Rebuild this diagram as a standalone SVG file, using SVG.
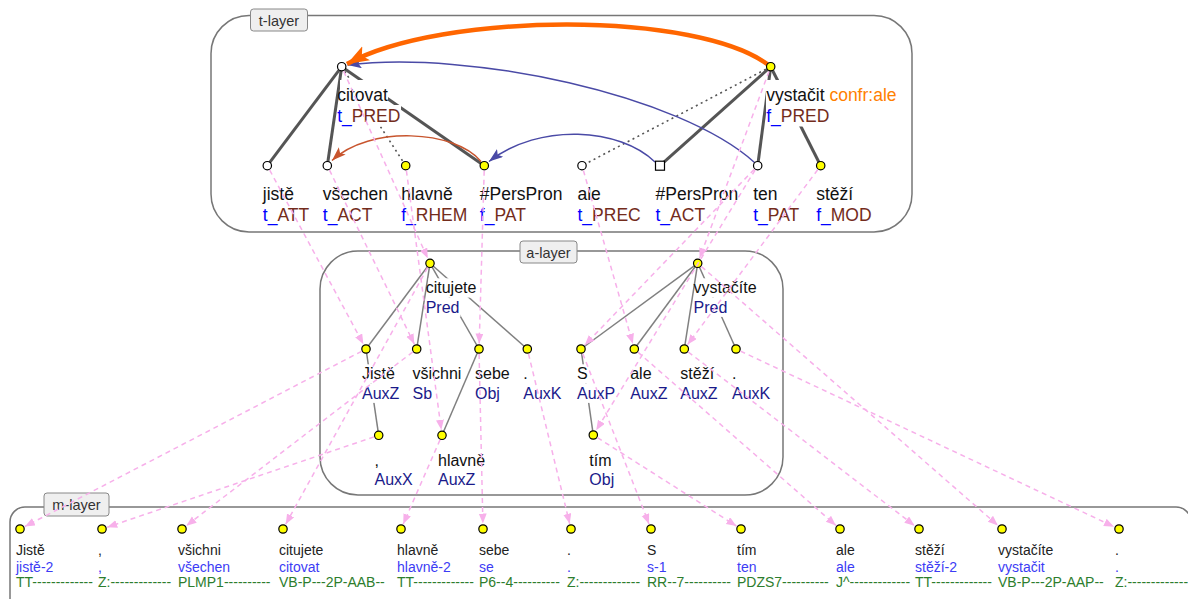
<svg xmlns="http://www.w3.org/2000/svg" width="1188" height="599" viewBox="0 0 1188 599">
<style>
text{font-family:"Liberation Sans",Arial,sans-serif}
.lay{fill:none;stroke:#777;stroke-width:1.5}
.lbox{fill:#efefef;stroke:#888;stroke-width:1}
.ltxt{font-size:14.5px;fill:#333;text-anchor:middle}
.te{stroke:#555;stroke-width:3;fill:none}
.td{stroke:#555;stroke-width:1.6;stroke-dasharray:2 3.5;fill:none}
.ae{stroke:#808080;stroke-width:1.5;fill:none}
.pk{stroke:#f7b0ea;stroke-width:1.5;stroke-dasharray:5 4;fill:none;marker-end:url(#pa)}
.nd{stroke:#000;stroke-width:1.2}
.y{fill:#ffff00}
.w{fill:#fff}
.bg{fill:#fff}
.tt{font-size:17.5px;fill:#111}
.tf{fill:#0000ff}
.fn{fill:#732c1c}
.at{font-size:16px;fill:#111}
.af{fill:#1a1a8a}
.mt{font-size:14px;fill:#222}
.m2{fill:#3c3cf5}
.m3{fill:#2d7d2d}
</style>
<defs>
<marker id="pa" markerUnits="userSpaceOnUse" markerWidth="11" markerHeight="9" refX="10" refY="4" orient="auto"><path d="M0,0 L10,4 L0,8 Z" fill="#f7b0ea"/></marker>
<marker id="oa" markerUnits="userSpaceOnUse" markerWidth="24" markerHeight="18" refX="22" refY="8" orient="auto"><path d="M0,0 L22,8 L0,16 L5,8 Z" fill="#ff6600"/></marker>
<marker id="ba" markerUnits="userSpaceOnUse" markerWidth="16" markerHeight="12" refX="14" refY="5" orient="auto"><path d="M0,0 L14,5 L0,10 L3,5 Z" fill="#4a4aa6"/></marker>
<marker id="ra" markerUnits="userSpaceOnUse" markerWidth="16" markerHeight="12" refX="14" refY="5" orient="auto"><path d="M0,0 L14,5 L0,10 L3,5 Z" fill="#c8552e"/></marker>
</defs>

<g id="layers">
<rect class="lay" x="211" y="15.5" width="701" height="216.5" rx="38"/>
<rect class="lbox" x="250.5" y="9" width="57" height="22" rx="3"/>
<text class="ltxt" x="279" y="25.5">t-layer</text>
<rect class="lay" x="320" y="251" width="463" height="244" rx="38"/>
<rect class="lbox" x="520" y="241" width="57" height="22" rx="3"/>
<text class="ltxt" x="548.5" y="257.5">a-layer</text>
<rect class="lay" x="10" y="507" width="1181" height="110" rx="15"/>
<rect class="lbox" x="44" y="493" width="65" height="23" rx="3"/>
<text class="ltxt" x="76.5" y="509.5">m-layer</text>
</g>

<g id="edges">
<line class="te" x1="341.7" y1="66.7" x2="267.3" y2="165.7"/>
<line class="te" x1="341.7" y1="66.7" x2="327.3" y2="165.7"/>
<line class="te" x1="341.7" y1="66.7" x2="484.3" y2="165.7"/>
<line class="td" x1="341.7" y1="66.7" x2="405.7" y2="165.7"/>
<line class="te" x1="770.7" y1="66.7" x2="660" y2="165.7"/>
<line class="te" x1="770.7" y1="66.7" x2="757.7" y2="165.7"/>
<line class="te" x1="770.7" y1="66.7" x2="820.7" y2="165.7"/>
<line class="td" x1="770.7" y1="66.7" x2="582" y2="165.7"/>
<path d="M754.5,162.5 C680,95 470,50 347.5,65" fill="none" stroke="#4a4aa6" stroke-width="1.5" marker-end="url(#ba)"/>
<path d="M655,162 C620,128 540,122 489,161.5" fill="none" stroke="#4a4aa6" stroke-width="1.5" marker-end="url(#ba)"/>
<path d="M481,161.5 C455,130 370,125 332,160.5" fill="none" stroke="#c8552e" stroke-width="1.5" marker-end="url(#ra)"/>
<path d="M770.7,66.7 C700,10 440,12 347,64" fill="none" stroke="#ff6600" stroke-width="4.5" marker-end="url(#oa)"/>
<line class="ae" x1="430" y1="263.3" x2="366" y2="349"/>
<line class="ae" x1="430" y1="263.3" x2="416.7" y2="349"/>
<line class="ae" x1="430" y1="263.3" x2="479" y2="349"/>
<line class="ae" x1="430" y1="263.3" x2="527.3" y2="349"/>
<line class="ae" x1="366" y1="349" x2="378.7" y2="435.3"/>
<line class="ae" x1="479" y1="349" x2="442" y2="435.3"/>
<line class="ae" x1="697.7" y1="263.3" x2="581" y2="349"/>
<line class="ae" x1="697.7" y1="263.3" x2="634.3" y2="349"/>
<line class="ae" x1="697.7" y1="263.3" x2="684.3" y2="349"/>
<line class="ae" x1="697.7" y1="263.3" x2="736" y2="349"/>
<line class="ae" x1="581" y1="349" x2="593.3" y2="435"/>
</g>

<g id="t_citovat">
<rect class="bg" x="340" y="80" width="48" height="25"/>
<rect class="bg" x="340" y="105" width="61" height="21.5"/>
<text class="tt" x="337.2" y="100.5">citovat</text>
<text class="tt" x="337.2" y="122"><tspan class="tf">t_</tspan><tspan class="fn">PRED</tspan></text>
<circle class="nd w" cx="341.7" cy="66.7" r="4.2"/>
</g>
<g id="t_vystacit">
<rect class="bg" x="766" y="80" width="132" height="25"/>
<rect class="bg" x="766" y="105" width="65" height="21.5"/>
<text class="tt" x="766.2" y="100.5">vystačit <tspan fill="#ff8000">confr:ale</tspan></text>
<text class="tt" x="766.2" y="122"><tspan class="tf">f_</tspan><tspan class="fn">PRED</tspan></text>
<circle class="nd y" cx="770.7" cy="66.7" r="4.2"/>
</g>
<g id="t_jiste">
<text class="tt" x="262.8" y="199.5">jistě</text>
<text class="tt" x="262.8" y="221"><tspan class="tf">t_</tspan><tspan class="fn">ATT</tspan></text>
<circle class="nd w" cx="267.3" cy="165.7" r="4.2"/>
</g>
<g id="t_vsechen">
<text class="tt" x="322.8" y="199.5">všechen</text>
<text class="tt" x="322.8" y="221"><tspan class="tf">t_</tspan><tspan class="fn">ACT</tspan></text>
<circle class="nd w" cx="327.3" cy="165.7" r="4.2"/>
</g>
<g id="t_hlavne">
<text class="tt" x="401.2" y="199.5">hlavně</text>
<text class="tt" x="401.2" y="221"><tspan class="tf">f_</tspan><tspan class="fn">RHEM</tspan></text>
<circle class="nd y" cx="405.7" cy="165.7" r="4.2"/>
</g>
<g id="t_perspron1">
<text class="tt" x="479.8" y="199.5">#PersPron</text>
<text class="tt" x="479.8" y="221"><tspan class="tf">f_</tspan><tspan class="fn">PAT</tspan></text>
<circle class="nd y" cx="484.3" cy="165.7" r="4.2"/>
</g>
<g id="t_ale">
<text class="tt" x="577.5" y="199.5">ale</text>
<text class="tt" x="577.5" y="221"><tspan class="tf">t_</tspan><tspan class="fn">PREC</tspan></text>
<circle class="nd w" cx="582" cy="165.7" r="4.2"/>
</g>
<g id="t_perspron2">
<text class="tt" x="655.5" y="199.5">#PersPron</text>
<text class="tt" x="655.5" y="221"><tspan class="tf">t_</tspan><tspan class="fn">ACT</tspan></text>
<rect class="nd w" x="655.5" y="161.2" width="9" height="9"/>
</g>
<g id="t_ten">
<text class="tt" x="753.2" y="199.5">ten</text>
<text class="tt" x="753.2" y="221"><tspan class="tf">t_</tspan><tspan class="fn">PAT</tspan></text>
<circle class="nd w" cx="757.7" cy="165.7" r="4.2"/>
</g>
<g id="t_stezi">
<text class="tt" x="816.2" y="199.5">stěží</text>
<text class="tt" x="816.2" y="221"><tspan class="tf">f_</tspan><tspan class="fn">MOD</tspan></text>
<circle class="nd y" cx="820.7" cy="165.7" r="4.2"/>
</g>

<g id="a_citujete">
<rect class="bg" x="428.5" y="278.3" width="49" height="19.3"/>
<rect class="bg" x="428.5" y="297.6" width="32" height="19.3"/>
<text class="at" x="425.7" y="293.3">citujete</text>
<text class="at af" x="425.7" y="312.6">Pred</text>
<circle class="nd y" cx="430" cy="263.3" r="4.2"/>
</g>
<g id="a_jiste">
<rect class="bg" x="362.5" y="364.3" width="32.5" height="19.3"/>
<rect class="bg" x="362.5" y="383.6" width="37" height="19.3"/>
<text class="at" x="362" y="379.3">Jistě</text>
<text class="at af" x="362" y="398.6">AuxZ</text>
<circle class="nd y" cx="366" cy="349" r="4.2"/>
</g>
<g id="a_vsichni">
<text class="at" x="412.5" y="379.3">všichni</text>
<text class="at af" x="412.5" y="398.6">Sb</text>
<circle class="nd y" cx="416.7" cy="349" r="4.2"/>
</g>
<g id="a_sebe">
<text class="at" x="475" y="379.3">sebe</text>
<text class="at af" x="475" y="398.6">Obj</text>
<circle class="nd y" cx="479" cy="349" r="4.2"/>
</g>
<g id="a_dot1">
<text class="at" x="523.3" y="379.3">.</text>
<text class="at af" x="523.3" y="398.6">AuxK</text>
<circle class="nd y" cx="527.3" cy="349" r="4.2"/>
</g>
<g id="a_comma">
<text class="at" x="374.5" y="465.5">,</text>
<text class="at af" x="374.5" y="484.8">AuxX</text>
<circle class="nd y" cx="378.7" cy="435.3" r="4.2"/>
</g>
<g id="a_hlavne">
<text class="at" x="438" y="465.5">hlavně</text>
<text class="at af" x="438" y="484.8">AuxZ</text>
<circle class="nd y" cx="442" cy="435.3" r="4.2"/>
</g>
<g id="a_vystacite">
<rect class="bg" x="696.5" y="278.3" width="61" height="19.3"/>
<rect class="bg" x="696.5" y="297.6" width="32" height="19.3"/>
<text class="at" x="693.5" y="293.3">vystačíte</text>
<text class="at af" x="693.5" y="312.6">Pred</text>
<circle class="nd y" cx="697.7" cy="263.3" r="4.2"/>
</g>
<g id="a_s">
<rect class="bg" x="577.5" y="364.3" width="11" height="19.3"/>
<rect class="bg" x="577.5" y="383.6" width="38" height="19.3"/>
<text class="at" x="577" y="379.3">S</text>
<text class="at af" x="577" y="398.6">AuxP</text>
<circle class="nd y" cx="581" cy="349" r="4.2"/>
</g>
<g id="a_ale">
<text class="at" x="630.2" y="379.3">ale</text>
<text class="at af" x="630.2" y="398.6">AuxZ</text>
<circle class="nd y" cx="634.3" cy="349" r="4.2"/>
</g>
<g id="a_stezi">
<text class="at" x="680.3" y="379.3">stěží</text>
<text class="at af" x="680.3" y="398.6">AuxZ</text>
<circle class="nd y" cx="684.3" cy="349" r="4.2"/>
</g>
<g id="a_dot2">
<text class="at" x="732" y="379.3">.</text>
<text class="at af" x="732" y="398.6">AuxK</text>
<circle class="nd y" cx="736" cy="349" r="4.2"/>
</g>
<g id="a_tim">
<text class="at" x="589.3" y="465.5">tím</text>
<text class="at af" x="589.3" y="484.8">Obj</text>
<circle class="nd y" cx="593.3" cy="435" r="4.2"/>
</g>

<g id="m_jiste"><circle class="nd y" cx="20" cy="529" r="4.2"/><text class="mt" x="16" y="555">Jistě</text><text class="mt m2" x="16" y="571.5">jistě-2</text><text class="mt m3" x="16" y="587">TT-------------</text></g>
<g id="m_comma"><circle class="nd y" cx="102" cy="529" r="4.2"/><text class="mt" x="98" y="555">,</text><text class="mt m2" x="98" y="571.5">,</text><text class="mt m3" x="98" y="587">Z:-------------</text></g>
<g id="m_vsichni"><circle class="nd y" cx="182" cy="529" r="4.2"/><text class="mt" x="178" y="555">všichni</text><text class="mt m2" x="178" y="571.5">všechen</text><text class="mt m3" x="178" y="587">PLMP1----------</text></g>
<g id="m_citujete"><circle class="nd y" cx="283" cy="529" r="4.2"/><text class="mt" x="279" y="555">citujete</text><text class="mt m2" x="279" y="571.5">citovat</text><text class="mt m3" x="279" y="587">VB-P---2P-AAB--</text></g>
<g id="m_hlavne"><circle class="nd y" cx="401" cy="529" r="4.2"/><text class="mt" x="397" y="555">hlavně</text><text class="mt m2" x="397" y="571.5">hlavně-2</text><text class="mt m3" x="397" y="587">TT-------------</text></g>
<g id="m_sebe"><circle class="nd y" cx="483" cy="529" r="4.2"/><text class="mt" x="479" y="555">sebe</text><text class="mt m2" x="479" y="571.5">se</text><text class="mt m3" x="479" y="587">P6--4----------</text></g>
<g id="m_dot1"><circle class="nd y" cx="571" cy="529" r="4.2"/><text class="mt" x="567" y="555">.</text><text class="mt m2" x="567" y="571.5">.</text><text class="mt m3" x="567" y="587">Z:-------------</text></g>
<g id="m_s"><circle class="nd y" cx="651" cy="529" r="4.2"/><text class="mt" x="647" y="555">S</text><text class="mt m2" x="647" y="571.5">s-1</text><text class="mt m3" x="647" y="587">RR--7----------</text></g>
<g id="m_tim"><circle class="nd y" cx="741" cy="529" r="4.2"/><text class="mt" x="737" y="555">tím</text><text class="mt m2" x="737" y="571.5">ten</text><text class="mt m3" x="737" y="587">PDZS7----------</text></g>
<g id="m_ale"><circle class="nd y" cx="840" cy="529" r="4.2"/><text class="mt" x="836" y="555">ale</text><text class="mt m2" x="836" y="571.5">ale</text><text class="mt m3" x="836" y="587">J^-------------</text></g>
<g id="m_stezi"><circle class="nd y" cx="919" cy="529" r="4.2"/><text class="mt" x="915" y="555">stěží</text><text class="mt m2" x="915" y="571.5">stěží-2</text><text class="mt m3" x="915" y="587">TT-------------</text></g>
<g id="m_vystacite"><circle class="nd y" cx="1002" cy="529" r="4.2"/><text class="mt" x="998" y="555">vystačíte</text><text class="mt m2" x="998" y="571.5">vystačit</text><text class="mt m3" x="998" y="587">VB-P---2P-AAP--</text></g>
<g id="m_dot2"><circle class="nd y" cx="1119" cy="529" r="4.2"/><text class="mt" x="1115" y="555">.</text><text class="mt m2" x="1115" y="571.5">.</text><text class="mt m3" x="1115" y="587">Z:-------------</text></g>

<g id="links">
<line class="pk" x1="343.7" y1="71.3" x2="427.7" y2="258.3"/>
<line class="pk" x1="269.7" y1="170.1" x2="363.4" y2="344.2"/>
<line class="pk" x1="329.5" y1="170.2" x2="414.3" y2="344.1"/>
<line class="pk" x1="406.4" y1="170.7" x2="441.3" y2="429.8"/>
<line class="pk" x1="484.2" y1="170.7" x2="479.2" y2="343.5"/>
<line class="pk" x1="583.4" y1="170.5" x2="632.8" y2="343.7"/>
<line class="pk" x1="769" y1="71.4" x2="699.6" y2="258.1"/>
<line class="pk" x1="754.2" y1="169.3" x2="584.8" y2="345"/>
<line class="pk" x1="755.1" y1="170" x2="596.2" y2="430.3"/>
<line class="pk" x1="817.7" y1="169.7" x2="687.6" y2="344.6"/>
<line class="pk" x1="361.6" y1="351.3" x2="24.9" y2="526.5"/>
<line class="pk" x1="374" y1="436.9" x2="107.2" y2="527.2"/>
<line class="pk" x1="412.7" y1="352" x2="186.4" y2="525.7"/>
<line class="pk" x1="427.6" y1="267.7" x2="285.7" y2="524.2"/>
<line class="pk" x1="440" y1="439.9" x2="403.2" y2="524"/>
<line class="pk" x1="479.1" y1="354" x2="482.9" y2="523.5"/>
<line class="pk" x1="528.5" y1="353.9" x2="569.7" y2="523.7"/>
<line class="pk" x1="582.8" y1="353.7" x2="649" y2="523.9"/>
<line class="pk" x1="597.5" y1="437.7" x2="736.4" y2="526"/>
<line class="pk" x1="638.1" y1="352.3" x2="835.9" y2="525.4"/>
<line class="pk" x1="688.3" y1="352" x2="914.6" y2="525.7"/>
<line class="pk" x1="701.5" y1="266.6" x2="997.9" y2="525.4"/>
<line class="pk" x1="740.5" y1="351.1" x2="1114" y2="526.7"/>
</g>
</svg>
